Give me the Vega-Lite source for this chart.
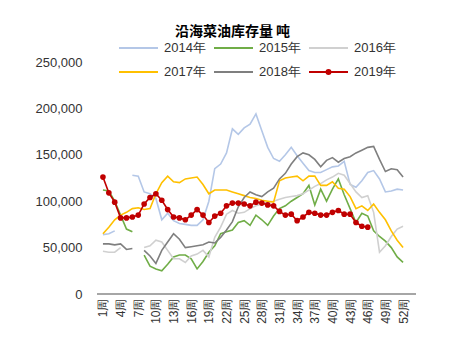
{
  "$schema": "https://vega.github.io/schema/vega-lite/v6.json",
  "width": 319,
  "height": 232,
  "autosize": {"type": "none"},
  "padding": {"left": 97, "top": 62, "right": 46, "bottom": 44},
  "title": {"text": "沿海菜油库存量 吨", "font": "Noto Sans CJK SC", "fontSize": 14, "fontWeight": "bold", "color": "#000000", "anchor": "middle", "dx": -24, "offset": 16, "dy": 15},
  "config": {"view": {"stroke": null}, "font": "Liberation Sans"},
  "data": {"values": [
{"year":"2014年","week":1,"value":64000},{"year":"2014年","week":2,"value":65000},{"year":"2014年","week":3,"value":68000},{"year":"2014年","week":4,"value":null},{"year":"2014年","week":5,"value":null},{"year":"2014年","week":6,"value":128000},{"year":"2014年","week":7,"value":127000},{"year":"2014年","week":8,"value":110000},{"year":"2014年","week":9,"value":108000},{"year":"2014年","week":10,"value":103000},{"year":"2014年","week":11,"value":80000},{"year":"2014年","week":12,"value":87000},{"year":"2014年","week":13,"value":79000},{"year":"2014年","week":14,"value":76000},{"year":"2014年","week":15,"value":75000},{"year":"2014年","week":16,"value":74000},{"year":"2014年","week":17,"value":74000},{"year":"2014年","week":18,"value":80000},{"year":"2014年","week":19,"value":100000},{"year":"2014年","week":20,"value":135000},{"year":"2014年","week":21,"value":140000},{"year":"2014年","week":22,"value":152000},{"year":"2014年","week":23,"value":178000},{"year":"2014年","week":24,"value":172000},{"year":"2014年","week":25,"value":179000},{"year":"2014年","week":26,"value":183000},{"year":"2014年","week":27,"value":194000},{"year":"2014年","week":28,"value":176000},{"year":"2014年","week":29,"value":158000},{"year":"2014年","week":30,"value":146000},{"year":"2014年","week":31,"value":143000},{"year":"2014年","week":32,"value":150000},{"year":"2014年","week":33,"value":158000},{"year":"2014年","week":34,"value":149000},{"year":"2014年","week":35,"value":141000},{"year":"2014年","week":36,"value":133000},{"year":"2014年","week":37,"value":131000},{"year":"2014年","week":38,"value":131000},{"year":"2014年","week":39,"value":134000},{"year":"2014年","week":40,"value":137000},{"year":"2014年","week":41,"value":138000},{"year":"2014年","week":42,"value":143000},{"year":"2014年","week":43,"value":118000},{"year":"2014年","week":44,"value":115000},{"year":"2014年","week":45,"value":122000},{"year":"2014年","week":46,"value":131000},{"year":"2014年","week":47,"value":133000},{"year":"2014年","week":48,"value":124000},{"year":"2014年","week":49,"value":110000},{"year":"2014年","week":50,"value":111000},{"year":"2014年","week":51,"value":113000},{"year":"2014年","week":52,"value":112000},
{"year":"2015年","week":1,"value":112000},{"year":"2015年","week":2,"value":111000},{"year":"2015年","week":3,"value":100000},{"year":"2015年","week":4,"value":85000},{"year":"2015年","week":5,"value":70000},{"year":"2015年","week":6,"value":67000},{"year":"2015年","week":7,"value":null},{"year":"2015年","week":8,"value":42000},{"year":"2015年","week":9,"value":30000},{"year":"2015年","week":10,"value":27000},{"year":"2015年","week":11,"value":25000},{"year":"2015年","week":12,"value":32000},{"year":"2015年","week":13,"value":40000},{"year":"2015年","week":14,"value":42000},{"year":"2015年","week":15,"value":42000},{"year":"2015年","week":16,"value":38000},{"year":"2015年","week":17,"value":27000},{"year":"2015年","week":18,"value":35000},{"year":"2015年","week":19,"value":45000},{"year":"2015年","week":20,"value":52000},{"year":"2015年","week":21,"value":65000},{"year":"2015年","week":22,"value":67000},{"year":"2015年","week":23,"value":69000},{"year":"2015年","week":24,"value":77000},{"year":"2015年","week":25,"value":79000},{"year":"2015年","week":26,"value":74000},{"year":"2015年","week":27,"value":85000},{"year":"2015年","week":28,"value":80000},{"year":"2015年","week":29,"value":74000},{"year":"2015年","week":30,"value":84000},{"year":"2015年","week":31,"value":92000},{"year":"2015年","week":32,"value":95000},{"year":"2015年","week":33,"value":100000},{"year":"2015年","week":34,"value":104000},{"year":"2015年","week":35,"value":108000},{"year":"2015年","week":36,"value":117000},{"year":"2015年","week":37,"value":96000},{"year":"2015年","week":38,"value":113000},{"year":"2015年","week":39,"value":100000},{"year":"2015年","week":40,"value":113000},{"year":"2015年","week":41,"value":124000},{"year":"2015年","week":42,"value":107000},{"year":"2015年","week":43,"value":92000},{"year":"2015年","week":44,"value":77000},{"year":"2015年","week":45,"value":87000},{"year":"2015年","week":46,"value":84000},{"year":"2015年","week":47,"value":68000},{"year":"2015年","week":48,"value":62000},{"year":"2015年","week":49,"value":57000},{"year":"2015年","week":50,"value":50000},{"year":"2015年","week":51,"value":40000},{"year":"2015年","week":52,"value":34000},
{"year":"2016年","week":1,"value":46000},{"year":"2016年","week":2,"value":45000},{"year":"2016年","week":3,"value":45000},{"year":"2016年","week":4,"value":50000},{"year":"2016年","week":5,"value":null},{"year":"2016年","week":6,"value":null},{"year":"2016年","week":7,"value":null},{"year":"2016年","week":8,"value":50000},{"year":"2016年","week":9,"value":52000},{"year":"2016年","week":10,"value":58000},{"year":"2016年","week":11,"value":56000},{"year":"2016年","week":12,"value":47000},{"year":"2016年","week":13,"value":38000},{"year":"2016年","week":14,"value":38000},{"year":"2016年","week":15,"value":34000},{"year":"2016年","week":16,"value":41000},{"year":"2016年","week":17,"value":43000},{"year":"2016年","week":18,"value":47000},{"year":"2016年","week":19,"value":40000},{"year":"2016年","week":20,"value":61000},{"year":"2016年","week":21,"value":72000},{"year":"2016年","week":22,"value":86000},{"year":"2016年","week":23,"value":90000},{"year":"2016年","week":24,"value":87000},{"year":"2016年","week":25,"value":88000},{"year":"2016年","week":26,"value":92000},{"year":"2016年","week":27,"value":95000},{"year":"2016年","week":28,"value":97000},{"year":"2016年","week":29,"value":99000},{"year":"2016年","week":30,"value":100000},{"year":"2016年","week":31,"value":102000},{"year":"2016年","week":32,"value":104000},{"year":"2016年","week":33,"value":105000},{"year":"2016年","week":34,"value":106000},{"year":"2016年","week":35,"value":108000},{"year":"2016年","week":36,"value":112000},{"year":"2016年","week":37,"value":116000},{"year":"2016年","week":38,"value":119000},{"year":"2016年","week":39,"value":123000},{"year":"2016年","week":40,"value":126000},{"year":"2016年","week":41,"value":130000},{"year":"2016年","week":42,"value":128000},{"year":"2016年","week":43,"value":119000},{"year":"2016年","week":44,"value":110000},{"year":"2016年","week":45,"value":104000},{"year":"2016年","week":46,"value":106000},{"year":"2016年","week":47,"value":88000},{"year":"2016年","week":48,"value":45000},{"year":"2016年","week":49,"value":52000},{"year":"2016年","week":50,"value":62000},{"year":"2016年","week":51,"value":70000},{"year":"2016年","week":52,"value":73000},
{"year":"2017年","week":1,"value":65000},{"year":"2017年","week":2,"value":72000},{"year":"2017年","week":3,"value":80000},{"year":"2017年","week":4,"value":85000},{"year":"2017年","week":5,"value":88000},{"year":"2017年","week":6,"value":92000},{"year":"2017年","week":7,"value":93000},{"year":"2017年","week":8,"value":91000},{"year":"2017年","week":9,"value":92000},{"year":"2017年","week":10,"value":108000},{"year":"2017年","week":11,"value":120000},{"year":"2017年","week":12,"value":127000},{"year":"2017年","week":13,"value":121000},{"year":"2017年","week":14,"value":120000},{"year":"2017年","week":15,"value":124000},{"year":"2017年","week":16,"value":125000},{"year":"2017年","week":17,"value":126000},{"year":"2017年","week":18,"value":118000},{"year":"2017年","week":19,"value":108000},{"year":"2017年","week":20,"value":112000},{"year":"2017年","week":21,"value":112000},{"year":"2017年","week":22,"value":112000},{"year":"2017年","week":23,"value":110000},{"year":"2017年","week":24,"value":108000},{"year":"2017年","week":25,"value":106000},{"year":"2017年","week":26,"value":104000},{"year":"2017年","week":27,"value":103000},{"year":"2017年","week":28,"value":101000},{"year":"2017年","week":29,"value":100000},{"year":"2017年","week":30,"value":99000},{"year":"2017年","week":31,"value":122000},{"year":"2017年","week":32,"value":125000},{"year":"2017年","week":33,"value":126000},{"year":"2017年","week":34,"value":127000},{"year":"2017年","week":35,"value":122000},{"year":"2017年","week":36,"value":127000},{"year":"2017年","week":37,"value":127000},{"year":"2017年","week":38,"value":117000},{"year":"2017年","week":39,"value":117000},{"year":"2017年","week":40,"value":121000},{"year":"2017年","week":41,"value":114000},{"year":"2017年","week":42,"value":113000},{"year":"2017年","week":43,"value":105000},{"year":"2017年","week":44,"value":92000},{"year":"2017年","week":45,"value":95000},{"year":"2017年","week":46,"value":90000},{"year":"2017年","week":47,"value":97000},{"year":"2017年","week":48,"value":88000},{"year":"2017年","week":49,"value":80000},{"year":"2017年","week":50,"value":68000},{"year":"2017年","week":51,"value":58000},{"year":"2017年","week":52,"value":50000},
{"year":"2018年","week":1,"value":54000},{"year":"2018年","week":2,"value":54000},{"year":"2018年","week":3,"value":53000},{"year":"2018年","week":4,"value":54000},{"year":"2018年","week":5,"value":48000},{"year":"2018年","week":6,"value":49000},{"year":"2018年","week":7,"value":null},{"year":"2018年","week":8,"value":47000},{"year":"2018年","week":9,"value":41000},{"year":"2018年","week":10,"value":33000},{"year":"2018年","week":11,"value":47000},{"year":"2018年","week":12,"value":56000},{"year":"2018年","week":13,"value":65000},{"year":"2018年","week":14,"value":59000},{"year":"2018年","week":15,"value":50000},{"year":"2018年","week":16,"value":51000},{"year":"2018年","week":17,"value":52000},{"year":"2018年","week":18,"value":53000},{"year":"2018年","week":19,"value":56000},{"year":"2018年","week":20,"value":55000},{"year":"2018年","week":21,"value":61000},{"year":"2018年","week":22,"value":69000},{"year":"2018年","week":23,"value":78000},{"year":"2018年","week":24,"value":94000},{"year":"2018年","week":25,"value":104000},{"year":"2018年","week":26,"value":110000},{"year":"2018年","week":27,"value":107000},{"year":"2018年","week":28,"value":105000},{"year":"2018年","week":29,"value":110000},{"year":"2018年","week":30,"value":114000},{"year":"2018年","week":31,"value":124000},{"year":"2018年","week":32,"value":130000},{"year":"2018年","week":33,"value":140000},{"year":"2018年","week":34,"value":148000},{"year":"2018年","week":35,"value":152000},{"year":"2018年","week":36,"value":150000},{"year":"2018年","week":37,"value":145000},{"year":"2018年","week":38,"value":137000},{"year":"2018年","week":39,"value":144000},{"year":"2018年","week":40,"value":147000},{"year":"2018年","week":41,"value":142000},{"year":"2018年","week":42,"value":146000},{"year":"2018年","week":43,"value":148000},{"year":"2018年","week":44,"value":152000},{"year":"2018年","week":45,"value":155000},{"year":"2018年","week":46,"value":158000},{"year":"2018年","week":47,"value":159000},{"year":"2018年","week":48,"value":145000},{"year":"2018年","week":49,"value":132000},{"year":"2018年","week":50,"value":135000},{"year":"2018年","week":51,"value":134000},{"year":"2018年","week":52,"value":126000},
{"year":"2019年","week":1,"value":126000},{"year":"2019年","week":2,"value":109000},{"year":"2019年","week":3,"value":99000},{"year":"2019年","week":4,"value":82000},{"year":"2019年","week":5,"value":82000},{"year":"2019年","week":6,"value":83000},{"year":"2019年","week":7,"value":85000},{"year":"2019年","week":8,"value":97000},{"year":"2019年","week":9,"value":104000},{"year":"2019年","week":10,"value":108000},{"year":"2019年","week":11,"value":101000},{"year":"2019年","week":12,"value":91000},{"year":"2019年","week":13,"value":83000},{"year":"2019年","week":14,"value":82000},{"year":"2019年","week":15,"value":80000},{"year":"2019年","week":16,"value":85000},{"year":"2019年","week":17,"value":91000},{"year":"2019年","week":18,"value":85000},{"year":"2019年","week":19,"value":77000},{"year":"2019年","week":20,"value":84000},{"year":"2019年","week":21,"value":87000},{"year":"2019年","week":22,"value":95000},{"year":"2019年","week":23,"value":98000},{"year":"2019年","week":24,"value":98000},{"year":"2019年","week":25,"value":97000},{"year":"2019年","week":26,"value":95000},{"year":"2019年","week":27,"value":99000},{"year":"2019年","week":28,"value":98000},{"year":"2019年","week":29,"value":96000},{"year":"2019年","week":30,"value":95000},{"year":"2019年","week":31,"value":89000},{"year":"2019年","week":32,"value":85000},{"year":"2019年","week":33,"value":86000},{"year":"2019年","week":34,"value":79000},{"year":"2019年","week":35,"value":83000},{"year":"2019年","week":36,"value":88000},{"year":"2019年","week":37,"value":87000},{"year":"2019年","week":38,"value":85000},{"year":"2019年","week":39,"value":85000},{"year":"2019年","week":40,"value":88000},{"year":"2019年","week":41,"value":90000},{"year":"2019年","week":42,"value":86000},{"year":"2019年","week":43,"value":86000},{"year":"2019年","week":44,"value":77000},{"year":"2019年","week":45,"value":73000},{"year":"2019年","week":46,"value":72000}
  ]},
  "encoding": {
    "x": {"field": "week", "type": "ordinal", "scale": {"type": "point", "range": [3, 309]},
      "axis": {"values": [1,4,7,10,13,16,19,22,25,28,31,34,37,40,43,46,49,52], "labelExpr": "datum.value + '周'", "labelAngle": 270, "domain": false, "ticks": false, "grid": false, "labelPadding": 4, "labelFontSize": 12, "labelColor": "#333333", "labelFont": "Liberation Sans", "title": null}},
    "y": {"field": "value", "type": "quantitative", "scale": {"domain": [0, 250000], "nice": false},
      "axis": {"values": [0,50000,100000,150000,200000,250000], "format": ",d", "grid": false, "domain": false, "ticks": false, "labelPadding": 15, "labelFontSize": 13, "labelColor": "#333333", "labelFont": "Liberation Sans", "title": null}}
  },
  "layer": [
    {"mark": {"type": "rule", "color": "#a6a6a6", "strokeWidth": 1.5}, "encoding": {"y": {"datum": 0}, "x": null}},
    {"mark": {"type": "line", "strokeWidth": 1.6, "invalid": "break-paths-show-domains"},
     "encoding": {"color": {"field": "year", "type": "nominal",
        "scale": {"domain": ["2014年","2015年","2016年","2017年","2018年","2019年"], "range": ["#b4c7e7","#70ad47","#d0d0d0","#ffc000","#7f7f7f","#c00000"]},
        "legend": {"orient": "none", "direction": "horizontal", "legendX": 21, "legendY": -22, "columns": 3, "title": null, "symbolType": "stroke", "symbolSize": 1521, "symbolStrokeWidth": 2, "labelFontSize": 13, "labelFont": "Liberation Sans", "labelColor": "#333333", "labelOffset": 5, "columnPadding": 7, "rowPadding": 8, "clipHeight": 16,
          "encode": {"symbols": {"update": {"shape": {"signal": "datum.value === '2019年' ? 'M-1,0H1M-0.1,0A0.1,0.1 0 1,0 0.1,0A0.1,0.1 0 1,0 -0.1,0Z' : 'stroke'"}, "fill": {"signal": "datum.value === '2019年' ? '#c00000' : 'transparent'"}}}}}}}},
    {"transform": [{"filter": "datum.year === '2019年'"}],
     "mark": {"type": "point", "filled": true, "size": 32, "color": "#c00000", "opacity": 1}}
  ]
}
